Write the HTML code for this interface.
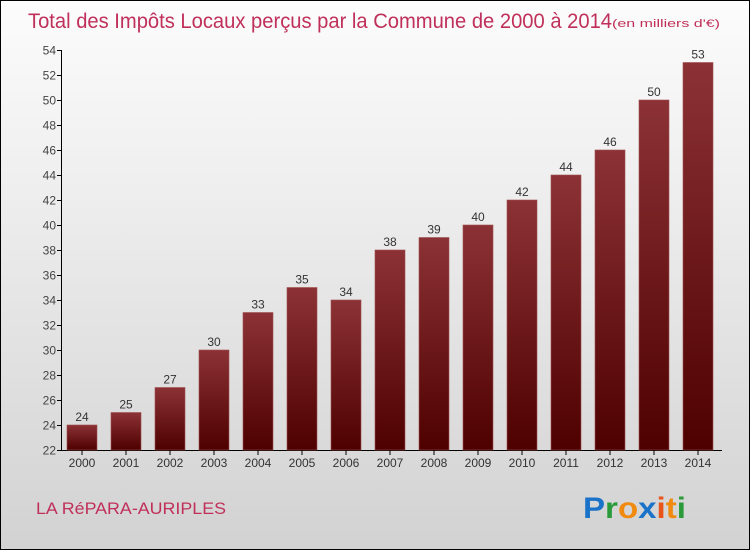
<!DOCTYPE html>
<html><head><meta charset="utf-8"><style>
html,body{margin:0;padding:0}
body{width:750px;height:550px;overflow:hidden;font-family:"Liberation Sans",sans-serif}
#wrap{position:absolute;left:0;top:0;width:748px;height:548px;border:1px solid #000;background:linear-gradient(#fcfcfc,#f0f0f0 30%,#d2d2d2)}
</style></head><body>
<div id="wrap">
<svg id="chart" width="748" height="548">
<defs><linearGradient id="bg" x1="0" y1="0" x2="0" y2="1"><stop offset="0" stop-color="#8c3236"/><stop offset="1" stop-color="#4e0000"/></linearGradient></defs>
<text x="27" y="27" font-size="21" fill="#c0305a" textLength="584" lengthAdjust="spacingAndGlyphs">Total des Impôts Locaux perçus par la Commune de 2000 à 2014</text>
<text x="611" y="26" font-size="11" fill="#c0305a" textLength="108" lengthAdjust="spacingAndGlyphs">(en milliers d'€)</text>
<text x="35" y="513" font-size="17" fill="#c0305a" textLength="190" lengthAdjust="spacingAndGlyphs">LA RéPARA-AURIPLES</text>
<g font-size="30" font-weight="bold" font-family="'Liberation Sans',sans-serif">
<text x="582" y="517" textLength="103" lengthAdjust="spacingAndGlyphs"><tspan fill="#1a73c8">P</tspan><tspan fill="#2a9a3a">r</tspan><tspan fill="#f08a10">o</tspan><tspan fill="#1a73c8">x</tspan><tspan fill="#e8541a">i</tspan><tspan fill="#f08a10">t</tspan><tspan fill="#2a9a3a">i</tspan></text></g>
<g id="plot"></g>
</svg></div>
<script>
const years=["2000","2001","2002","2003","2004","2005","2006","2007","2008","2009","2010","2011","2012","2013","2014"];
const values=[24,25,27,30,33,35,34,38,39,40,42,44,46,50,53];
const yTicks=[22,24,26,28,30,32,34,36,38,40,42,44,46,48,50,52,54];
const NS="http://www.w3.org/2000/svg";
const g=document.getElementById('plot');
const yMin=22,yMax=54,y0=449,y1=49;
function ys(v){return y0-(v-yMin)/(yMax-yMin)*(y0-y1);}
function xs(i){return 81+i*44;}
function mk(t,a,txt){const e=document.createElementNS(NS,t);for(const k in a)e.setAttribute(k,a[k]);if(txt!==undefined)e.textContent=txt;g.appendChild(e);return e;}
let ax=mk('line',{x1:60.5,y1:y1,x2:60.5,y2:y0+0.5,stroke:'#000'});


let bx=mk('line',{x1:60,y1:y0+0.5,x2:721,y2:y0+0.5,stroke:'#000'});


yTicks.forEach(v=>{
 const y=Math.round(ys(v))+0.5;
 let t=mk('line',{x1:56,y1:y,x2:61,y2:y,stroke:'#000'});
 
 
 let l=mk('text',{x:55,y:y+4,'font-size':12,'text-anchor':'end',fill:'#444'},v);
 
 
});
years.forEach((yr,i)=>{
 const cx=xs(i),top=ys(values[i]);
 let r=mk('rect',{x:cx-15,y:top,width:30,height:y0-top,fill:'url(#bg)',stroke:'#a05050','stroke-width':0.6});
 
 
 let v=mk('text',{x:cx,y:top-4,'font-size':12,'text-anchor':'middle',fill:'#333'},values[i]);
 
 
 let tk=mk('line',{x1:cx,y1:y0,x2:cx,y2:y0+5,stroke:'#000'});
 
 
 let l=mk('text',{x:cx,y:y0+17,'font-size':12,'text-anchor':'middle',fill:'#333'},yr);
 
 
});
</script>
</body></html>
